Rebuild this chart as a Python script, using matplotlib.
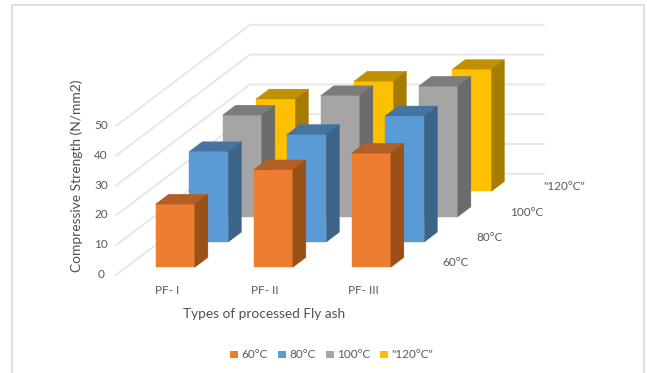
import matplotlib
matplotlib.use("Agg")
import matplotlib.pyplot as plt
from matplotlib.patches import Polygon, Rectangle

plt.rcParams['font.family'] = ['Lato', 'DejaVu Sans']

categories = ["PF- I", "PF- II", "PF- III"]
series_names = ['60°C', '80°C', '100°C', '"120°C"']
strength_60 = [21.2, 32.7, 38.3]
strength_80 = [30.3, 36.1, 42.3]
strength_100 = [34.1, 40.6, 43.8]
strength_120 = [31.0, 37.0, 40.9]
value_ticks = [0, 10, 20, 30, 40, 50]

# (front, top, side) shades per series
shades = [
    ("#ED7D31", "#B25E25", "#9A5118"),
    ("#5B9BD5", "#44749F", "#3A6489"),
    ("#A5A5A5", "#7C7C7C", "#6B6B6B"),
    ("#FFC000", "#BF9000", "#A67C00"),
]

# Oblique projection of the plot box, in pixels
ORIGIN = (116.0, 275.0)
CAT_STEP = 98.0
DEPTH_STEP = (33.5, -25.3)
VALUE_STEP = 2.98
BAR_WIDTH = 0.40      # share of a category slot
BAR_DEPTH = 0.39      # share of a series slot


def project(cat, depth, value):
    """Map category, series depth and value positions to pixel coordinates."""
    return (ORIGIN[0] + cat * CAT_STEP + depth * DEPTH_STEP[0],
            ORIGIN[1] + depth * DEPTH_STEP[1] - value * VALUE_STEP)


fig = plt.figure(figsize=(6.47, 3.73), dpi=100)
ax = fig.add_axes([0, 0, 1, 1])
ax.set_xlim(0, 647)
ax.set_ylim(373, 0)
ax.axis("off")

# Chart frame, its lower edge falls outside the canvas
ax.add_patch(Rectangle((11.5, 5), 632, 400, fill=False, ec="#DCDCDC", lw=1.3, zorder=1))

# Gridlines run along the side wall and the back wall
n_cat, n_depth = len(categories), len(series_names)
for v in value_ticks:
    pts = [project(0, 0, v), project(0, n_depth, v), project(n_cat, n_depth, v)]
    ax.plot(*zip(*pts), color="#E6E6E6", lw=1.3, zorder=2, solid_joinstyle="miter")
    ax.text(pts[0][0] - 15, pts[0][1] - 0.5, str(v), ha="center", va="center",
            fontsize=8.5, color="#595959")

# Bars, painted from the back row to the front
rows = [strength_60, strength_80, strength_100, strength_120]
for d in range(n_depth - 1, -1, -1):
    front, top, side = shades[d]
    for c, value in enumerate(rows[d]):
        x0 = c + (1 - BAR_WIDTH) / 2
        x1 = x0 + BAR_WIDTH
        d0 = d + (1 - BAR_DEPTH) / 2
        d1 = d0 + BAR_DEPTH
        ax.add_patch(Polygon([project(x0, d0, 0), project(x1, d0, 0),
                              project(x1, d0, value), project(x0, d0, value)],
                             fc=front, ec=front, lw=0.3, zorder=3))
        ax.add_patch(Polygon([project(x0, d0, value), project(x1, d0, value),
                              project(x1, d1, value), project(x0, d1, value)],
                             fc=top, ec=top, lw=0.3, zorder=3))
        ax.add_patch(Polygon([project(x1, d0, 0), project(x1, d1, 0),
                              project(x1, d1, value), project(x1, d0, value)],
                             fc=side, ec=side, lw=0.3, zorder=3))

# Category labels under the front edge
for c, name in enumerate(categories):
    x, y = project(c + 0.5, 0, 0)
    ax.text(x + 2, 290.5, name, ha="center", va="center", fontsize=8.5, color="#595959")

# Series labels along the right side of the floor
for d, name in enumerate(series_names):
    x, y = project(n_cat, d + 0.5, 0)
    ax.text(x + 16, y + 0.5, name, ha="left", va="center", fontsize=8.5, color="#595959")

ax.text(264, 314, "Types of processed Fly ash", ha="center", va="center",
        fontsize=9.8, color="#505050")
ax.text(77, 176, "Compressive Strength (N/mm2)", ha="center", va="center",
        rotation=90, fontsize=9.9, color="#505050")

# Legend
legend_x = [230, 278, 326, 380]
for lx, name, shade in zip(legend_x, series_names, shades):
    ax.add_patch(Rectangle((lx, 350.5), 7.5, 7.5, fc=shade[0], ec="none", zorder=3))
    ax.text(lx + 11, 354.5, name, ha="left", va="center", fontsize=8.5, color="#595959")

fig.savefig("out.png", dpi=100)
